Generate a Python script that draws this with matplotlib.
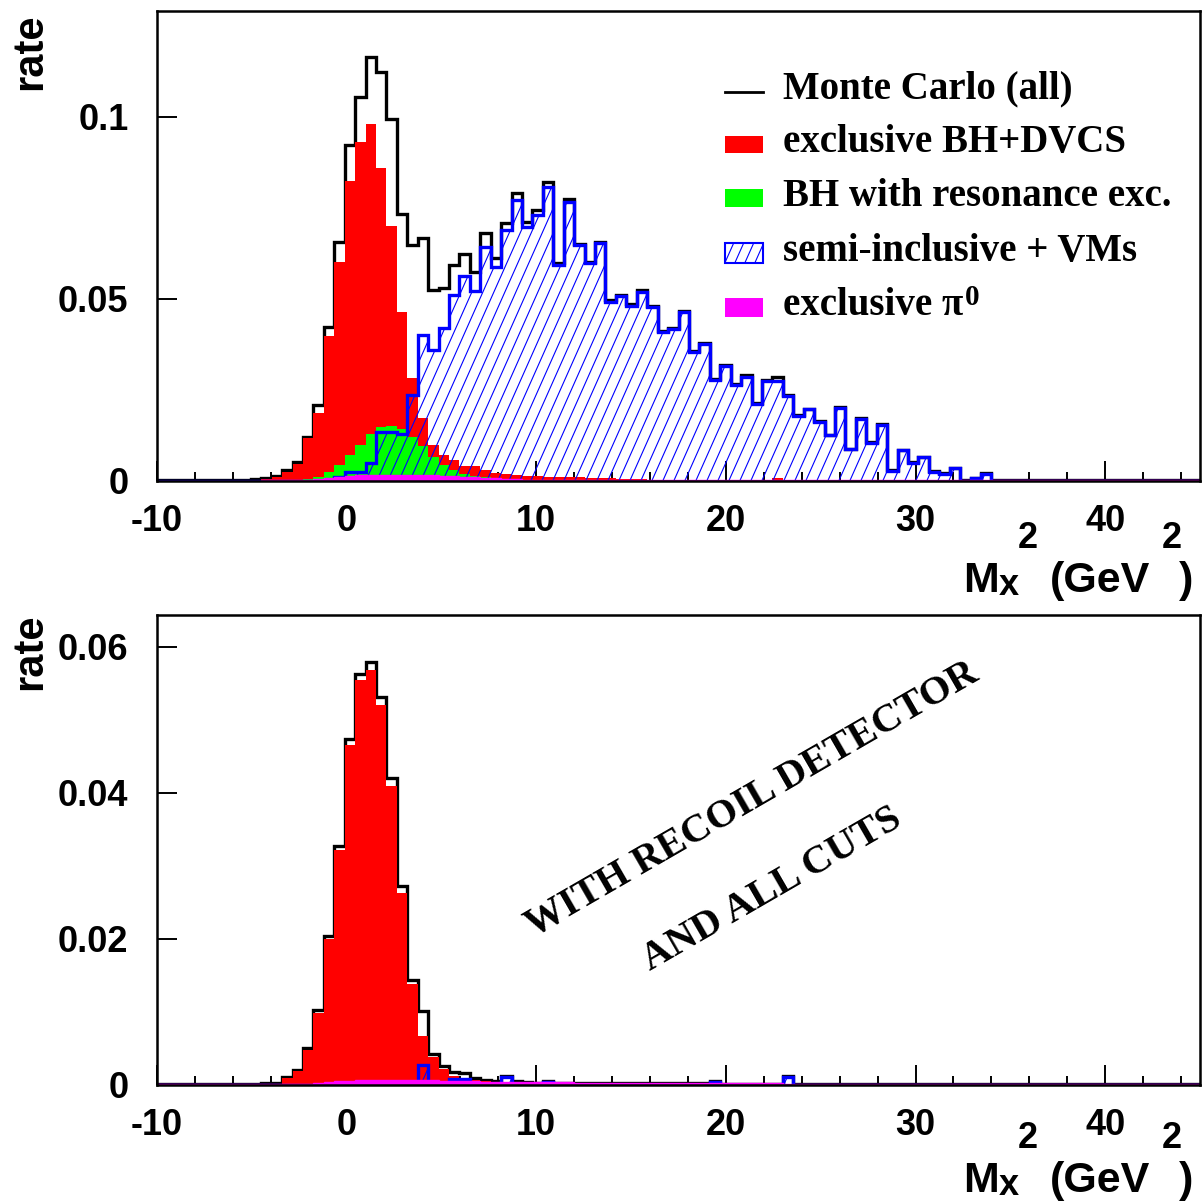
import numpy as np
import matplotlib
matplotlib.use("Agg")
import matplotlib.pyplot as plt
from matplotlib.collections import LineCollection
from matplotlib.patches import Rectangle
from matplotlib.lines import Line2D
from matplotlib.ticker import MultipleLocator

plt.rcParams["font.family"] = ["Liberation Sans", "DejaVu Sans"]
plt.rcParams["font.weight"] = "bold"
plt.rcParams["axes.unicode_minus"] = False

# 100 bins in Mx^2 from -10 to 45 GeV^2
x_lo, x_hi, n_bins = -10.0, 45.0, 100
edges = np.linspace(x_lo, x_hi, n_bins + 1)

# --- without recoil detector ---
mc_all = [
    0.0003, 0.0003, 0.0003, 0.0003, 0.0003, 0.0003, 0.0004, 0.0004, 0.0004, 0.0006,
    0.0009, 0.0014, 0.0030, 0.0052, 0.0122, 0.0209, 0.0422, 0.0657, 0.0922, 0.1056,
    0.1166, 0.1124, 0.0995, 0.0734, 0.0647, 0.0667, 0.0525, 0.0530, 0.0593, 0.0623,
    0.0573, 0.0680, 0.0613, 0.0710, 0.0790, 0.0712, 0.0745, 0.0822, 0.0598, 0.0774,
    0.0651, 0.0602, 0.0657, 0.0497, 0.0512, 0.0486, 0.0524, 0.0482, 0.0413, 0.0420,
    0.0468, 0.0358, 0.0378, 0.0280, 0.0320, 0.0267, 0.0290, 0.0215, 0.0278, 0.0285,
    0.0237, 0.0181, 0.0199, 0.0165, 0.0127, 0.0202, 0.0089, 0.0172, 0.0107, 0.0157,
    0.0030, 0.0086, 0.0051, 0.0067, 0.0027, 0.0023, 0.0037, 0.0002, 0.0009, 0.0021,
    0.0002, 0.0002, 0.0002, 0.0002, 0.0002, 0.0002, 0.0002, 0.0002, 0.0002, 0.0002,
    0.0002, 0.0002, 0.0002, 0.0002, 0.0002, 0.0002, 0.0002, 0.0002, 0.0002, 0.0002,
]
bh_dvcs = [
    0.0001, 0.0001, 0.0001, 0.0001, 0.0001, 0.0001, 0.0002, 0.0002, 0.0002, 0.0003,
    0.0005, 0.0010, 0.0026, 0.0047, 0.0117, 0.0186, 0.0398, 0.0602, 0.0825, 0.0930,
    0.0981, 0.0859, 0.0700, 0.0465, 0.0282, 0.0172, 0.0099, 0.0071, 0.0058, 0.0041,
    0.0040, 0.0030, 0.0021, 0.0018, 0.0016, 0.0015, 0.0014, 0.0012, 0.0011, 0.0010,
    0.0010, 0.0009, 0.0008, 0.0007, 0.0006, 0.0005, 0.0005, 0.0004, 0.0004, 0.0004,
    0.0003, 0.0003, 0.0003, 0.0003, 0.0003, 0.0003, 0.0003, 0.0003, 0.0003, 0.0008,
    0.0002, 0.0002, 0.0002, 0.0002, 0.0002, 0.0002, 0.0002, 0.0002, 0.0002, 0.0002,
    0.0001, 0.0001, 0.0001, 0.0001, 0.0001, 0.0001, 0.0001, 0.0001, 0.0001, 0.0001,
    0.0001, 0.0001, 0.0001, 0.0001, 0.0001, 0.0001, 0.0001, 0.0001, 0.0001, 0.0001,
    0.0001, 0.0001, 0.0001, 0.0001, 0.0001, 0.0001, 0.0001, 0.0001, 0.0001, 0.0001,
]
bh_resonance = [
    0.0, 0.0, 0.0, 0.0, 0.0, 0.0, 0.0, 0.0, 0.0, 0.0,
    0.0, 0.0, 0.0001, 0.0003, 0.0005, 0.0012, 0.0025, 0.0044, 0.0071, 0.0100,
    0.0128, 0.0149, 0.0152, 0.0144, 0.0122, 0.0095, 0.0066, 0.0044, 0.0030, 0.0020,
    0.0015, 0.0010, 0.0008, 0.0006, 0.0005, 0.0004, 0.0003, 0.0003, 0.0003, 0.0003,
    0.0002, 0.0002, 0.0002, 0.0002, 0.0002, 0.0002, 0.0002, 0.0002, 0.0002, 0.0002,
    0.0001, 0.0001, 0.0001, 0.0001, 0.0001, 0.0001, 0.0001, 0.0001, 0.0001, 0.0001,
    0.0, 0.0, 0.0, 0.0, 0.0, 0.0, 0.0, 0.0, 0.0, 0.0,
    0.0, 0.0, 0.0, 0.0, 0.0, 0.0, 0.0, 0.0, 0.0, 0.0,
    0.0, 0.0, 0.0, 0.0, 0.0, 0.0, 0.0, 0.0, 0.0, 0.0,
    0.0, 0.0, 0.0, 0.0, 0.0, 0.0, 0.0, 0.0, 0.0, 0.0,
]
semi_incl = [
    0.0, 0.0, 0.0, 0.0, 0.0, 0.0, 0.0, 0.0, 0.0, 0.0,
    0.0, 0.0, 0.0, 0.0, 0.0, 0.0, 0.0, 0.0012, 0.0025, 0.0025,
    0.0049, 0.0135, 0.0135, 0.0130, 0.0236, 0.0401, 0.0360, 0.0420, 0.0511, 0.0564,
    0.0522, 0.0642, 0.0589, 0.0690, 0.0772, 0.0699, 0.0731, 0.0809, 0.0593, 0.0767,
    0.0648, 0.0598, 0.0653, 0.0493, 0.0508, 0.0482, 0.0520, 0.0479, 0.0410, 0.0417,
    0.0465, 0.0355, 0.0375, 0.0277, 0.0317, 0.0264, 0.0287, 0.0212, 0.0275, 0.0275,
    0.0234, 0.0179, 0.0197, 0.0163, 0.0125, 0.0200, 0.0087, 0.0170, 0.0105, 0.0155,
    0.0028, 0.0084, 0.0049, 0.0065, 0.0024, 0.0019, 0.0035, 0.0, 0.0007, 0.0019,
    0.0, 0.0, 0.0, 0.0, 0.0, 0.0, 0.0, 0.0, 0.0, 0.0,
    0.0, 0.0, 0.0, 0.0, 0.0, 0.0, 0.0, 0.0, 0.0, 0.0,
]
excl_pi0 = [
    0.0001, 0.0001, 0.0001, 0.0001, 0.0001, 0.0001, 0.0001, 0.0001, 0.0001, 0.0001,
    0.0002, 0.0002, 0.0002, 0.0002, 0.0003, 0.0005, 0.0007, 0.0010, 0.0014, 0.0016,
    0.0017, 0.0017, 0.0017, 0.0017, 0.0017, 0.0016, 0.0016, 0.0015, 0.0014, 0.0012,
    0.0010, 0.0008, 0.0007, 0.0006, 0.0005, 0.0004, 0.0004, 0.0004, 0.0004, 0.0004,
    0.0003, 0.0003, 0.0003, 0.0003, 0.0003, 0.0003, 0.0003, 0.0003, 0.0003, 0.0003,
    0.0003, 0.0003, 0.0003, 0.0003, 0.0003, 0.0003, 0.0003, 0.0003, 0.0003, 0.0003,
    0.0002, 0.0002, 0.0002, 0.0002, 0.0002, 0.0002, 0.0002, 0.0002, 0.0002, 0.0002,
    0.0002, 0.0002, 0.0002, 0.0002, 0.0002, 0.0002, 0.0002, 0.0002, 0.0002, 0.0002,
    0.0002, 0.0002, 0.0002, 0.0002, 0.0002, 0.0002, 0.0002, 0.0002, 0.0002, 0.0002,
    0.0002, 0.0002, 0.0002, 0.0002, 0.0002, 0.0002, 0.0002, 0.0002, 0.0002, 0.0002,
]

# --- with recoil detector and all cuts ---
mc_all_cut = [
    0.0002, 0.0002, 0.0002, 0.0002, 0.0002, 0.0002, 0.0002, 0.0002, 0.0002, 0.0002,
    0.0003, 0.0003, 0.0011, 0.0021, 0.0051, 0.0103, 0.0204, 0.0327, 0.0474, 0.0563,
    0.0580, 0.0531, 0.0420, 0.0273, 0.0144, 0.0101, 0.0042, 0.0026, 0.0018, 0.0017,
    0.0009, 0.0007, 0.0005, 0.0013, 0.0005, 0.0004, 0.0003, 0.0006, 0.0003, 0.0003,
    0.0003, 0.0003, 0.0003, 0.0003, 0.0003, 0.0003, 0.0003, 0.0003, 0.0003, 0.0003,
    0.0003, 0.0003, 0.0003, 0.0006, 0.0002, 0.0002, 0.0002, 0.0002, 0.0002, 0.0002,
    0.0013, 0.0001, 0.0001, 0.0001, 0.0001, 0.0001, 0.0001, 0.0001, 0.0001, 0.0001,
    0.0001, 0.0001, 0.0001, 0.0001, 0.0001, 0.0001, 0.0001, 0.0001, 0.0001, 0.0001,
    0.0001, 0.0001, 0.0001, 0.0001, 0.0001, 0.0001, 0.0001, 0.0001, 0.0001, 0.0001,
    0.0001, 0.0001, 0.0001, 0.0001, 0.0001, 0.0001, 0.0001, 0.0001, 0.0001, 0.0001,
]
bh_dvcs_cut = [
    0.0001, 0.0001, 0.0001, 0.0001, 0.0001, 0.0001, 0.0001, 0.0001, 0.0001, 0.0001,
    0.0002, 0.0002, 0.0009, 0.0019, 0.0048, 0.0099, 0.0200, 0.0322, 0.0466, 0.0555,
    0.0568, 0.0521, 0.0409, 0.0263, 0.0138, 0.0067, 0.0039, 0.0022, 0.0012, 0.0009,
    0.0007, 0.0005, 0.0003, 0.0002, 0.0002, 0.0002, 0.0002, 0.0002, 0.0002, 0.0002,
    0.0001, 0.0001, 0.0001, 0.0001, 0.0001, 0.0001, 0.0001, 0.0001, 0.0001, 0.0001,
    0.0, 0.0, 0.0, 0.0, 0.0, 0.0, 0.0, 0.0, 0.0, 0.0,
    0.0, 0.0, 0.0, 0.0, 0.0, 0.0, 0.0, 0.0, 0.0, 0.0,
    0.0, 0.0, 0.0, 0.0, 0.0, 0.0, 0.0, 0.0, 0.0, 0.0,
    0.0, 0.0, 0.0, 0.0, 0.0, 0.0, 0.0, 0.0, 0.0, 0.0,
    0.0, 0.0, 0.0, 0.0, 0.0, 0.0, 0.0, 0.0, 0.0, 0.0,
]
semi_incl_cut = [
    0.0, 0.0, 0.0, 0.0, 0.0, 0.0, 0.0, 0.0, 0.0, 0.0,
    0.0, 0.0, 0.0, 0.0, 0.0, 0.0, 0.0, 0.0, 0.0, 0.0,
    0.0, 0.0, 0.0, 0.0, 0.0, 0.0027, 0.0, 0.0, 0.0008, 0.0008,
    0.0, 0.0, 0.0, 0.0011, 0.0, 0.0, 0.0, 0.0004, 0.0, 0.0,
    0.0, 0.0, 0.0, 0.0, 0.0, 0.0, 0.0, 0.0, 0.0, 0.0,
    0.0, 0.0, 0.0, 0.0004, 0.0, 0.0, 0.0, 0.0, 0.0, 0.0,
    0.0011, 0.0, 0.0, 0.0, 0.0, 0.0, 0.0, 0.0, 0.0, 0.0,
    0.0, 0.0, 0.0, 0.0, 0.0, 0.0, 0.0, 0.0, 0.0, 0.0,
    0.0, 0.0, 0.0, 0.0, 0.0, 0.0, 0.0, 0.0, 0.0, 0.0,
    0.0, 0.0, 0.0, 0.0, 0.0, 0.0, 0.0, 0.0, 0.0, 0.0,
]
excl_pi0_cut = [
    0.0001, 0.0001, 0.0001, 0.0001, 0.0001, 0.0001, 0.0001, 0.0001, 0.0001, 0.0001,
    0.0001, 0.0002, 0.0002, 0.0002, 0.0002, 0.0003, 0.0004, 0.0005, 0.0006, 0.0007,
    0.0007, 0.0007, 0.0007, 0.0007, 0.0007, 0.0007, 0.0007, 0.0006, 0.0005, 0.0005,
    0.0005, 0.0004, 0.0004, 0.0004, 0.0004, 0.0004, 0.0004, 0.0004, 0.0004, 0.0004,
    0.0003, 0.0003, 0.0003, 0.0003, 0.0003, 0.0003, 0.0003, 0.0003, 0.0003, 0.0003,
    0.0003, 0.0003, 0.0003, 0.0003, 0.0003, 0.0003, 0.0003, 0.0003, 0.0003, 0.0003,
    0.0002, 0.0002, 0.0002, 0.0002, 0.0002, 0.0002, 0.0002, 0.0002, 0.0002, 0.0002,
    0.0002, 0.0002, 0.0002, 0.0002, 0.0002, 0.0002, 0.0002, 0.0002, 0.0002, 0.0002,
    0.0002, 0.0002, 0.0002, 0.0002, 0.0002, 0.0002, 0.0002, 0.0002, 0.0002, 0.0002,
    0.0002, 0.0002, 0.0002, 0.0002, 0.0002, 0.0002, 0.0002, 0.0002, 0.0002, 0.0002,
]

x_ticks = [-10, 0, 10, 20, 30, 40]
x_ticklabels = ["-10", "0", "10", "20", "30", "40"]
y_ticks_top = [0, 0.05, 0.1]
y_ticklabels_top = ["0", "0.05", "0.1"]
y_ticks_bot = [0, 0.02, 0.04, 0.06]
y_ticklabels_bot = ["0", "0.02", "0.04", "0.06"]
legend_labels = ["Monte Carlo (all)", "exclusive BH+DVCS", "BH with resonance exc.",
                 "semi-inclusive + VMs", "exclusive \u03c0"]

RED, GREEN, BLUE, MAGENTA = "#ff0000", "#00ff00", "#0000ff", "#ff00ff"
W, H = 1202, 1203
fig = plt.figure(figsize=(W / 100, H / 100), dpi=100)


def px(x, y):
    # pixel position (from top-left) -> figure fraction
    return x / W, 1 - y / H


def hatch(ax, clip, spacing=11, angle=66, lw=0.8, zorder=4):
    bb = ax.get_position()
    w_px, h_px = bb.width * W, bb.height * H
    run = h_px / np.tan(np.radians(angle))
    starts = np.arange(-run, w_px, spacing)
    segs = [[(s / w_px, 0), ((s + run) / w_px, 1)] for s in starts]
    lc = LineCollection(segs, colors=BLUE, linewidths=lw, transform=ax.transAxes, zorder=zorder)
    ax.add_collection(lc, autolim=False)
    lc.set_clip_path(clip)


def panel(ax, total, excl, semi, pi0, reso, ymax, yt, ytl):
    ax.stairs(total, edges, baseline=0, color="black", linewidth=2.4, zorder=1)
    ax.stairs(excl, edges, baseline=0, fill=True, facecolor=RED, edgecolor="none", zorder=2)
    if reso is not None:
        ax.stairs(reso, edges, baseline=0, fill=True, facecolor=GREEN, edgecolor="none", zorder=3)
    sp = ax.stairs(semi, edges, baseline=0, fill=True, facecolor="none",
                   edgecolor=BLUE, linewidth=2.4, zorder=5)
    hatch(ax, sp)
    ax.stairs(pi0, edges, baseline=0, fill=True, facecolor=MAGENTA,
              edgecolor=MAGENTA, linewidth=1.0, zorder=6)

    ax.set_xlim(x_lo, x_hi)
    ax.set_ylim(0, ymax)
    ax.set_xticks(x_ticks)
    ax.set_xticklabels(x_ticklabels)
    ax.xaxis.set_minor_locator(MultipleLocator(2))
    ax.set_yticks(yt)
    ax.set_yticklabels(ytl)
    ax.tick_params(which="major", direction="in", length=14.4, width=1.4, labelsize=26)
    ax.tick_params(which="minor", direction="in", length=6.8, width=1.4)
    ax.tick_params(axis="x", pad=16.5)
    ax.tick_params(axis="y", pad=20.5)
    for s in ax.spines.values():
        s.set_linewidth(1.8)
        s.set_zorder(10)


def xlabel(dy):
    f = dict(fontsize=31, fontweight="bold")
    s = dict(fontsize=26, fontweight="bold")
    fig.text(*px(963, 592 + dy), "M", ha="left", va="baseline", **f)
    fig.text(*px(999, 595 + dy), "x", ha="left", va="baseline", **s)
    fig.text(*px(1018, 548 + dy), "2", ha="left", va="baseline", **s)
    fig.text(*px(1100, 592 + dy), "(GeV", ha="center", va="baseline", **f)
    fig.text(*px(1162, 548 + dy), "2", ha="left", va="baseline", **s)
    fig.text(*px(1179, 592 + dy), ")", ha="left", va="baseline", **f)


ax1 = fig.add_axes([157 / W, 1 - 481 / H, 1043 / W, 470 / H])
ax2 = fig.add_axes([157 / W, 1 - 1085 / H, 1043 / W, 470 / H])

panel(ax1, mc_all, bh_dvcs, semi_incl, excl_pi0, bh_resonance, 470 / 3640, y_ticks_top, y_ticklabels_top)
panel(ax2, mc_all_cut, bh_dvcs_cut, semi_incl_cut, excl_pi0_cut, None, 470 / 7300, y_ticks_bot, y_ticklabels_bot)

# y titles and x titles
fig.text(*px(30, 13), "rate", rotation=90, ha="center", va="top", fontsize=30, fontweight="bold")
fig.text(*px(30, 613), "rate", rotation=90, ha="center", va="top", fontsize=30, fontweight="bold")
xlabel(0)
xlabel(600)


# legend, drawn in axes fraction of the upper pad
def ax_frac(x, y):
    return (x - 157) / 1043, (481 - y) / 470


serif = dict(family="Liberation Serif", fontsize=28, fontweight="bold")
x0, x1 = ax_frac(725, 0)[0], ax_frac(763, 0)[0]
ax1.add_line(Line2D([x0, x1], [ax_frac(0, 91.7)[1]] * 2, color="black", linewidth=2.0,
                    transform=ax1.transAxes, zorder=20))
for color, (ytop, ybot) in [(RED, (136, 152.7)), (GREEN, (189.3, 206.7)), (MAGENTA, (298.3, 316.7))]:
    ax1.add_patch(Rectangle((x0, ax_frac(0, ybot)[1]), x1 - x0, (ybot - ytop) / 470,
                            facecolor=color, edgecolor="none", transform=ax1.transAxes, zorder=20))
key = Rectangle((x0, ax_frac(0, 263.3)[1]), x1 - x0, 20.6 / 470, facecolor="white",
                edgecolor=BLUE, linewidth=1.5, transform=ax1.transAxes, zorder=21)
ax1.add_patch(key)
hatch(ax1, key, spacing=10, zorder=22)

baselines = [98, 151.7, 206, 261, 315]
for lab, yb in zip(legend_labels, baselines):
    ax1.text(*ax_frac(783, yb), lab, transform=ax1.transAxes, ha="left", va="baseline", zorder=20, **serif)
ax1.text(*ax_frac(965, 305), "0", transform=ax1.transAxes, ha="left", va="baseline", zorder=20,
         family="Liberation Serif", fontsize=21, fontweight="bold")

# annotation in the lower pad
note = {**serif, "fontsize": 29}
ax2.text(*ax_frac(752, 800 - 604), "WITH RECOIL DETECTOR", transform=ax2.transAxes,
         rotation=30, rotation_mode="anchor", ha="center", va="center", **note)
ax2.text(*ax_frac(772, 890 - 604), "AND ALL CUTS", transform=ax2.transAxes,
         rotation=30, rotation_mode="anchor", ha="center", va="center", **note)

fig.savefig("out.png", dpi=100)
